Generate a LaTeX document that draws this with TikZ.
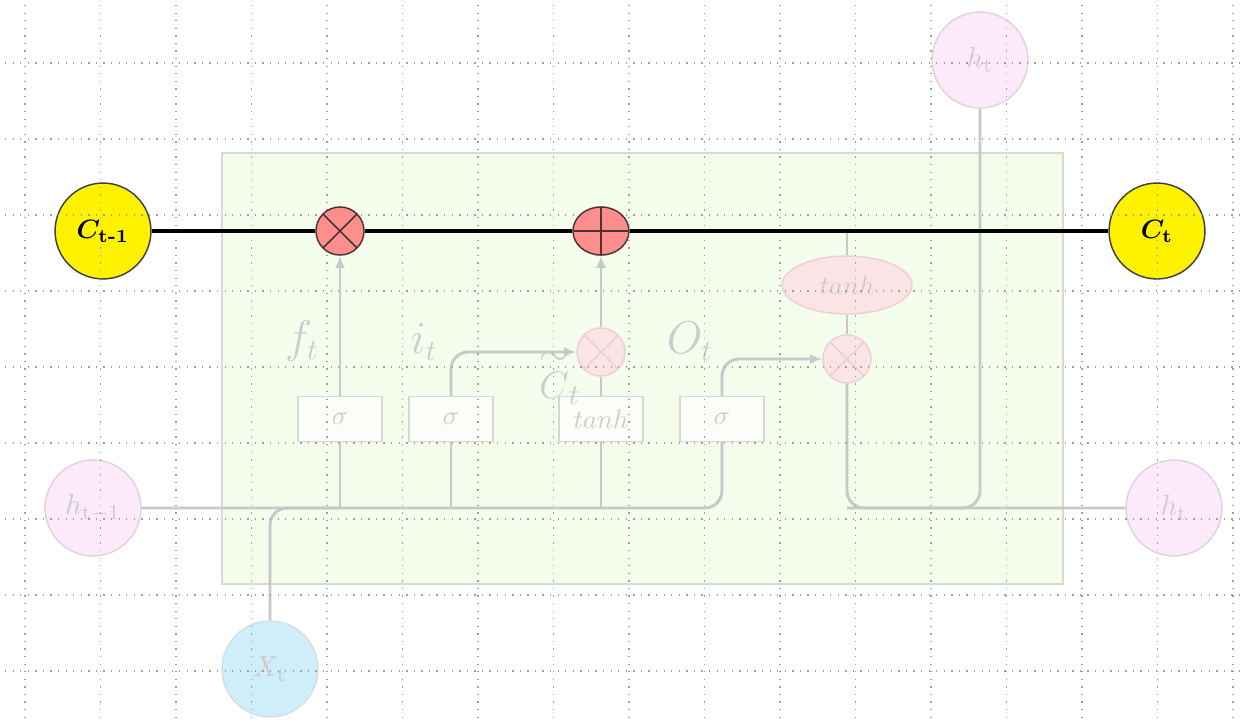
\documentclass[tikz,border=0pt]{standalone}
\usepackage{amsmath,bm}
\usetikzlibrary{arrows.meta,shapes.geometric}

\definecolor{panelfill}{RGB}{244,252,236}
\definecolor{paneldraw}{RGB}{214,219,208}
\definecolor{wire}{RGB}{200,200,200}
\definecolor{faintink}{RGB}{204,204,204}
\definecolor{hpink}{RGB}{252,234,250}
\definecolor{hdraw}{RGB}{222,212,222}
\definecolor{xblue}{RGB}{208,237,250}
\definecolor{xdraw}{RGB}{212,222,228}
\definecolor{gatefill}{RGB}{252,253,248}
\definecolor{gatedraw}{RGB}{216,216,210}
\definecolor{opred}{RGB}{252,142,142}
\definecolor{opdraw}{RGB}{80,50,50}
\definecolor{oppink}{RGB}{250,228,230}
\definecolor{oppinkdraw}{RGB}{236,208,212}
\definecolor{dotgray}{RGB}{158,158,158}

\pgfdeclarelayer{panel}
\pgfdeclarelayer{dots}
\pgfdeclarelayer{front}
\pgfsetlayers{panel,main,dots,front}

\tikzset{
  cellstate/.style={circle, draw=black!75, line width=0.55pt, fill=yellow,
    minimum size=36.1pt, inner sep=0pt, font=\fontsize{10}{11}\selectfont},
  hidstate/.style={circle, draw=hdraw, line width=0.55pt, fill=hpink,
    minimum size=36.1pt, inner sep=0pt, text=faintink, font=\fontsize{11}{12}\selectfont},
  inpstate/.style={circle, draw=xdraw, line width=0.55pt, fill=xblue,
    minimum size=36.1pt, inner sep=0pt, text=faintink, font=\fontsize{11}{12}\selectfont},
  gatebox/.style={rectangle, draw=gatedraw, line width=0.55pt, fill=gatefill,
    minimum width=31.6pt, minimum height=16.9pt, inner sep=0pt, text=faintink,
    font=\fontsize{10}{12}\selectfont},
  mulop/.style={circle, draw=opdraw, line width=0.55pt, fill=opred,
    minimum size=18.1pt, inner sep=0pt,
    path picture={\draw[opdraw, line width=0.55pt]
      (path picture bounding box.north west) -- (path picture bounding box.south east)
      (path picture bounding box.north east) -- (path picture bounding box.south west);}},
  addop/.style={ellipse, draw=opdraw, line width=0.55pt, fill=opred,
    minimum width=21.1pt, minimum height=18.1pt, inner sep=0pt,
    path picture={\draw[opdraw, line width=0.55pt]
      (path picture bounding box.north) -- (path picture bounding box.south)
      (path picture bounding box.west) -- (path picture bounding box.east);}},
  mulfaint/.style={circle, draw=oppinkdraw, line width=0.55pt, fill=oppink,
    minimum size=18.1pt, inner sep=0pt,
    path picture={\draw[oppinkdraw, line width=0.55pt]
      (path picture bounding box.north west) -- (path picture bounding box.south east)
      (path picture bounding box.north east) -- (path picture bounding box.south west);}},
  squash/.style={ellipse, draw=oppinkdraw, line width=0.55pt, fill=oppink,
    minimum width=48.9pt, minimum height=21.8pt, inner sep=0pt, text=faintink,
    font=\fontsize{10}{12}\selectfont},
  gatelabel/.style={text=faintink, font=\fontsize{16}{18}\selectfont, inner sep=0pt},
  wire/.style={draw=wire, line width=1.1pt},
  flow/.style={wire, -{Latex[length=4.6pt,width=3.8pt]}},
  softturn/.style={rounded corners=6.5pt},
  statewire/.style={draw=black, line width=1.15pt},
  griddot/.style={draw=dotgray, line width=0.5pt, dash pattern=on 0.5pt off 2.35pt}
}

\begin{document}
\begin{tikzpicture}[x=0.3765pt, y=-0.3765pt]
\useasboundingbox (0,0) rectangle (1241,723);

% cell body
\begin{pgfonlayer}{panel}
  \fill[white] (0,0) rectangle (1241,723);
  \draw[paneldraw, line width=0.6pt, fill=panelfill] (222,153) rectangle (1063,584);
\end{pgfonlayer}

% states
\node[cellstate] (cprev) at (103,231) {$\bm{C}_{\mathbf{t}\textbf{-}\mathbf{1}}$};
\node[cellstate] (cnext) at (1157,231) {$\bm{C}_{\mathbf{t}}$};
\node[hidstate] (hprev) at (93,508) {$h_{\mathrm{t-1}}$};
\node[hidstate] (hnext) at (1174,508) {$h_{\mathrm{t}}$};
\node[hidstate] (hout) at (980,60) {$h_{\mathrm{t}}$};
\node[inpstate] (xin) at (270,669) {$X_{\mathrm{t}}$};

% gates
\node[gatebox] (fgate) at (340,419) {$\sigma$};
\node[gatebox] (igate) at (451,419) {$\sigma$};
\node[gatebox] (cgate) at (601,419) {$tanh$};
\node[gatebox] (ogate) at (722,419) {$\sigma$};

\node[mulfaint] (imul) at (601,352) {};
\node[mulfaint] (omul) at (847,359) {};
\node[squash] (ctanh) at (847,285) {$tanh$};
\coordinate (tap) at (847,231);

% gate labels
\node[gatelabel] (flab) at (302,341) {$f_t$};
\node[gatelabel] (ilab) at (424,342) {$i_t$};
\node[gatelabel] (olab) at (690,341) {$O_t$};
\node[gatelabel, font=\fontsize{15}{17}\selectfont] (clab) at (560,376)
  {$\overset{\textstyle\sim}{C}_t$};

% cell state operations
\begin{pgfonlayer}{front}
  \node[mulop] (fmul) at (340,231) {};
  \node[addop] (cadd) at (601,231) {};
  \draw[statewire] (cprev.east) -- (fmul.west);
  \draw[statewire] (fmul.east) -- (cadd.west);
  \draw[statewire] (cadd.east) -- (cnext.west);
\end{pgfonlayer}

% hidden state and input feeding the gates
\draw[wire, softturn] (hprev.east) -| (ogate.south);
\draw[wire] (fgate.south) -- (fgate.south |- hprev.east);
\draw[wire] (igate.south) -- (igate.south |- hprev.east);
\draw[wire] (cgate.south) -- (cgate.south |- hprev.east);
\draw[wire, softturn] (xin.north) |- (fgate.south |- hprev.east);

% gate outputs
\draw[flow] (fgate.north) -- (fmul.south);
\draw[flow, softturn] (igate.north) |- (imul.west);
\draw[wire] (cgate.north) -- (imul.south);
\draw[flow] (imul.north) -- (cadd.south);
\draw[wire] (tap) -- (ctanh.north);
\draw[wire] (ctanh.south) -- (omul.north);
\draw[flow, softturn] (ogate.north) |- (omul.west);

% new hidden state
\draw[wire, softturn] (omul.south) |- (hnext.west);
\draw[wire, softturn] (hout.south) |- (omul.south |- hnext.west);

% dotted grid
\begin{pgfonlayer}{dots}
  \foreach \k in {0,...,16}
    \draw[griddot] ({25+75.5*\k},5) -- ({25+75.5*\k},723);
  \foreach \k in {0,...,8}
    \draw[griddot] (5,{63+76*\k}) -- (1241,{63+76*\k});
\end{pgfonlayer}
\end{tikzpicture}
\end{document}
